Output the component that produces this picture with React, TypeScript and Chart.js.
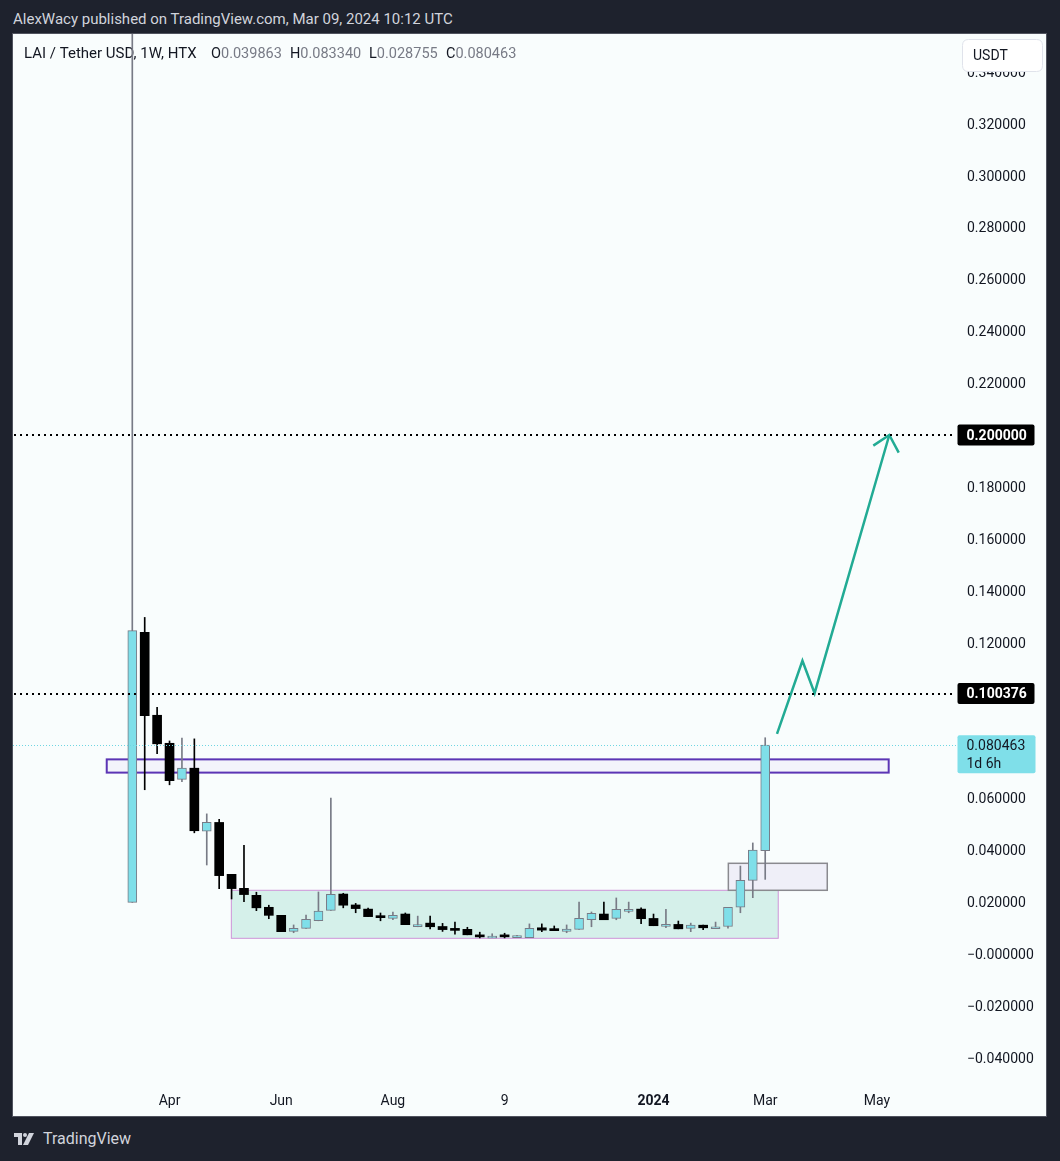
import React, { useEffect, useRef } from 'react';
import { Chart, registerables } from 'chart.js';

Chart.register(...registerables);

// ---------- data ----------
const WEEKS = [
  '2023-03-13', '2023-03-20', '2023-03-27', '2023-04-03', '2023-04-10', '2023-04-17', '2023-04-24',
  '2023-05-01', '2023-05-08', '2023-05-15', '2023-05-22', '2023-05-29', '2023-06-05', '2023-06-12',
  '2023-06-19', '2023-06-26', '2023-07-03', '2023-07-10', '2023-07-17', '2023-07-24', '2023-07-31',
  '2023-08-07', '2023-08-14', '2023-08-21', '2023-08-28', '2023-09-04', '2023-09-11', '2023-09-18',
  '2023-09-25', '2023-10-02', '2023-10-09', '2023-10-16', '2023-10-23', '2023-10-30', '2023-11-06',
  '2023-11-13', '2023-11-20', '2023-11-27', '2023-12-04', '2023-12-11', '2023-12-18', '2023-12-25',
  '2024-01-01', '2024-01-08', '2024-01-15', '2024-01-22', '2024-01-29', '2024-02-05', '2024-02-12',
  '2024-02-19', '2024-02-26', '2024-03-04',
];

const OPEN = [
  0.0199, 0.1240, 0.0920, 0.0812, 0.0673, 0.0716, 0.0473, 0.0507, 0.0307, 0.0253,
  0.0226, 0.0180, 0.0149, 0.0087, 0.0099, 0.0128, 0.0168, 0.0231, 0.0189, 0.0173,
  0.0145, 0.0137, 0.0154, 0.0113, 0.0119, 0.0106, 0.0096, 0.0095, 0.0072, 0.0069,
  0.0072, 0.0063, 0.0063, 0.0101, 0.0092, 0.0087, 0.0095, 0.0132, 0.0154, 0.0137,
  0.0172, 0.0173, 0.0137, 0.0114, 0.0114, 0.0099, 0.0111, 0.0105, 0.0106, 0.0180,
  0.0284, 0.039863,
];
const HIGH = [
  0.4200, 0.1297, 0.0951, 0.0821, 0.0832, 0.0829, 0.0540, 0.0519, 0.0307, 0.0419,
  0.0238, 0.0188, 0.0149, 0.0112, 0.0150, 0.0239, 0.0601, 0.0234, 0.0195, 0.0177,
  0.0158, 0.0162, 0.0158, 0.0146, 0.0146, 0.0118, 0.0123, 0.0103, 0.0084, 0.0078,
  0.0080, 0.0072, 0.0116, 0.0116, 0.0108, 0.0112, 0.0200, 0.0162, 0.0200, 0.0216,
  0.0200, 0.0178, 0.0154, 0.0172, 0.0127, 0.0119, 0.0111, 0.0123, 0.0180, 0.0339,
  0.0428, 0.083340,
];
const LOW = [
  0.0199, 0.0633, 0.0772, 0.0652, 0.0664, 0.0467, 0.0343, 0.0252, 0.0212, 0.0202,
  0.0167, 0.0136, 0.0086, 0.0082, 0.0099, 0.0128, 0.0168, 0.0178, 0.0159, 0.0144,
  0.0128, 0.0132, 0.0113, 0.0105, 0.0097, 0.0087, 0.0076, 0.0074, 0.0062, 0.0063,
  0.0062, 0.0063, 0.0063, 0.0086, 0.0090, 0.0082, 0.0095, 0.0105, 0.0132, 0.0132,
  0.0159, 0.0117, 0.0109, 0.0101, 0.0097, 0.0086, 0.0094, 0.0105, 0.0100, 0.0159,
  0.0217, 0.028755,
];
const CLOSE = [
  0.1246, 0.0918, 0.0810, 0.0668, 0.0716, 0.0475, 0.0507, 0.0302, 0.0252, 0.0229,
  0.0178, 0.0149, 0.0086, 0.0099, 0.0134, 0.0165, 0.0230, 0.0188, 0.0175, 0.0144,
  0.0140, 0.0149, 0.0113, 0.0113, 0.0105, 0.0094, 0.0091, 0.0074, 0.0066, 0.0069,
  0.0066, 0.0068, 0.0099, 0.0092, 0.0090, 0.0096, 0.0137, 0.0157, 0.0132, 0.0172,
  0.0172, 0.0136, 0.0109, 0.0114, 0.0097, 0.0111, 0.0101, 0.0105, 0.0180, 0.0284,
  0.0400, 0.080463,
];

// time axis ticks (week index) and labels
const TIME_TICKS = [3, 12, 21, 30, 42, 51, 60];
const TIME_LABELS = ['Apr', 'Jun', 'Aug', '9', '2024', 'Mar', 'May'];

// price axis ticks
const PRICE_TICKS = [
  -0.04, -0.02, 0, 0.02, 0.04, 0.06, 0.08, 0.1, 0.12, 0.14, 0.16, 0.18, 0.2, 0.22, 0.24,
  0.26, 0.28, 0.3, 0.32, 0.34,
];

// horizontal levels
const LEVELS = [0.2, 0.100376];
const LAST_PRICE = 0.080463;
const LAST_PRICE_TIMER = '1d 6h';

// rectangles (week index range, price range)
const ZONE_X0 = [-2.06, 7.98, 48.03];
const ZONE_X1 = [60.95, 52.05, 56.0];
const ZONE_Y0 = [0.0699, 0.00605, 0.02455];
const ZONE_Y1 = [0.0750, 0.02455, 0.03495];

// projected path (week index, price)
const PATH_X = [51.95, 54.0, 54.98, 61.0];
const PATH_Y = [0.0848, 0.1130, 0.1005, 0.2];
const HEAD_X = [59.71, 61.0, 61.76];
const HEAD_Y = [0.1959, 0.2, 0.1932];

// visible range
const X_MIN = -9.613;
const X_MAX = 66.374;
const Y_MIN = -0.051252;
const Y_MAX = 0.354528;

// ---------- style ----------
const FONT = 'Roboto, "Liberation Sans", sans-serif';
const UP = '#7fdfe9';
const UP_BORDER = '#787b86';
const DOWN = '#000000';
const TEAL = '#22ab94';
const TEXT = '#131722';
const PLOT_BG = '#f9fdfd';
const ZONE_FILL = ['#f3f4fb', '#d5f0ea', '#efeff8'];
const ZONE_STROKE = ['#5c35b5', '#ce93d8', '#8a8a8f'];
const ZONE_LW = [2, 1, 1.5];

const fmtPrice = (v: number) => {
  const s = Math.abs(v).toFixed(6);
  return v <= 1e-12 ? '\u2212' + s : s;
};

function roundRect(ctx: CanvasRenderingContext2D, x: number, y: number, w: number, h: number, r: number) {
  ctx.beginPath();
  ctx.moveTo(x + r, y);
  ctx.lineTo(x + w - r, y);
  ctx.quadraticCurveTo(x + w, y, x + w, y + r);
  ctx.lineTo(x + w, y + h - r);
  ctx.quadraticCurveTo(x + w, y + h, x + w - r, y + h);
  ctx.lineTo(x + r, y + h);
  ctx.quadraticCurveTo(x, y + h, x, y + h - r);
  ctx.lineTo(x, y + r);
  ctx.quadraticCurveTo(x, y, x + r, y);
  ctx.closePath();
}

const overlayPlugin = {
  id: 'overlay',
  beforeDatasetsDraw(chart: any) {
    const { ctx, scales } = chart;
    const x = scales.x;
    const y = scales.y;
    ctx.save();
    // legend line
    ctx.font = `15px ${FONT}`;
    ctx.textBaseline = 'middle';
    ctx.textAlign = 'left';
    const cy = 20;
    ctx.fillStyle = TEXT;
    ctx.fillText('LAI / Tether USD, 1W, HTX', 11, cy);
    const names = ['O', 'H', 'L', 'C'];
    const starts = [198, 277, 356, 433];
    const last = OPEN.length - 1;
    const vals = [OPEN[last], HIGH[last], LOW[last], CLOSE[last]];
    ctx.font = `14.5px ${FONT}`;
    names.forEach((n, i) => {
      ctx.fillStyle = TEXT;
      ctx.fillText(n, starts[i], cy);
      const w = ctx.measureText(n).width;
      ctx.fillStyle = '#787b86';
      ctx.fillText(vals[i].toFixed(6), starts[i] + w, cy);
    });
    // zones
    for (let i = 0; i < ZONE_X0.length; i++) {
      const px0 = x.getPixelForValue(ZONE_X0[i]);
      const px1 = x.getPixelForValue(ZONE_X1[i]);
      const py0 = y.getPixelForValue(ZONE_Y1[i]);
      const py1 = y.getPixelForValue(ZONE_Y0[i]);
      ctx.fillStyle = ZONE_FILL[i];
      ctx.fillRect(px0, py0, px1 - px0, py1 - py0);
      ctx.strokeStyle = ZONE_STROKE[i];
      ctx.lineWidth = ZONE_LW[i];
      ctx.strokeRect(px0, py0, px1 - px0, py1 - py0);
    }
    ctx.restore();
  },
  afterDatasetsDraw(chart: any) {
    const { ctx, chartArea, scales } = chart;
    const y = scales.y;
    ctx.save();
    // last price line
    const lp = Math.round(y.getPixelForValue(LAST_PRICE)) + 0.5;
    ctx.strokeStyle = '#6fd6e2';
    ctx.lineWidth = 1;
    ctx.setLineDash([1, 2]);
    ctx.beginPath();
    ctx.moveTo(chartArea.left, lp);
    ctx.lineTo(chartArea.right, lp);
    ctx.stroke();
    // dotted levels
    ctx.strokeStyle = '#000000';
    ctx.lineWidth = 2;
    ctx.setLineDash([2, 4]);
    for (const v of LEVELS) {
      const py = Math.round(y.getPixelForValue(v));
      ctx.beginPath();
      ctx.moveTo(chartArea.left + 1, py);
      ctx.lineTo(chartArea.right, py);
      ctx.stroke();
    }
    ctx.restore();
  },
  afterDraw(chart: any) {
    const { ctx, chartArea, scales } = chart;
    const y = scales.y;
    ctx.save();
    const bx = chartArea.right + 1.5;
    // level labels
    for (const v of LEVELS) {
      const py = y.getPixelForValue(v);
      ctx.fillStyle = '#000000';
      roundRect(ctx, bx, py - 10.5, 77, 21, 2);
      ctx.fill();
      ctx.fillStyle = '#ffffff';
      ctx.font = `bold 14px ${FONT}`;
      ctx.textBaseline = 'middle';
      ctx.textAlign = 'left';
      ctx.fillText(fmtPrice(v), bx + 9, py + 1);
    }
    // last price label
    const lp = y.getPixelForValue(LAST_PRICE);
    ctx.fillStyle = UP;
    roundRect(ctx, bx, lp - 10, 78, 38, 2);
    ctx.fill();
    ctx.fillStyle = TEXT;
    ctx.font = `14px ${FONT}`;
    ctx.textBaseline = 'middle';
    ctx.fillText(fmtPrice(LAST_PRICE), bx + 9, lp + 1.5);
    ctx.fillText(LAST_PRICE_TIMER, bx + 9, lp + 19.5);
    // currency button
    ctx.fillStyle = '#ffffff';
    roundRect(ctx, 949.5, 5.5, 80, 32, 6);
    ctx.fill();
    ctx.strokeStyle = '#e0e3eb';
    ctx.lineWidth = 1;
    ctx.stroke();
    ctx.fillStyle = TEXT;
    ctx.font = `14px ${FONT}`;
    ctx.fillText('USDT', 960, 22);
    ctx.restore();
  },
};

export default function App() {
  const canvasRef = useRef<HTMLCanvasElement | null>(null);

  useEffect(() => {
    const canvas = canvasRef.current;
    if (!canvas) return;

    const upBodies: any[] = [];
    const downBodies: any[] = [];
    const upWicks: any[] = [];
    const downWicks: any[] = [];
    WEEKS.forEach((_, i) => {
      const up = CLOSE[i] >= OPEN[i];
      (up ? upBodies : downBodies).push({ x: i, y: [OPEN[i], CLOSE[i]] });
      (up ? upWicks : downWicks).push({ x: i, y: [LOW[i], HIGH[i]] });
    });
    const path = PATH_X.map((v, i) => ({ x: v, y: PATH_Y[i] }));
    const head = HEAD_X.map((v, i) => ({ x: v, y: HEAD_Y[i] }));

    const chart = new Chart(canvas, {
      type: 'bar',
      data: {
        datasets: [
          {
            type: 'line',
            label: 'projection',
            data: path,
            borderColor: TEAL,
            borderWidth: 2.5,
            pointRadius: 0,
            fill: false,
            tension: 0,
          } as any,
          {
            type: 'line',
            label: 'arrowhead',
            data: head,
            borderColor: TEAL,
            borderWidth: 2.5,
            pointRadius: 0,
            fill: false,
            tension: 0,
          } as any,
          {
            label: 'up bodies',
            data: upBodies,
            backgroundColor: UP,
            borderColor: UP_BORDER,
            borderWidth: 1,
            borderSkipped: false,
            barThickness: 9,
            minBarLength: 2,
            grouped: false,
            clip: 0,
          } as any,
          {
            label: 'down bodies',
            data: downBodies,
            backgroundColor: DOWN,
            borderColor: DOWN,
            borderWidth: 0,
            barThickness: 9,
            minBarLength: 2,
            grouped: false,
            clip: 0,
          } as any,
          {
            label: 'up wicks',
            data: upWicks,
            backgroundColor: UP_BORDER,
            borderWidth: 0,
            barThickness: 1,
            grouped: false,
            clip: 0,
          } as any,
          {
            label: 'down wicks',
            data: downWicks,
            backgroundColor: DOWN,
            borderWidth: 0,
            barThickness: 1,
            grouped: false,
            clip: 0,
          } as any,
        ],
      },
      options: {
        animation: false,
        responsive: false,
        maintainAspectRatio: false,
        layout: { padding: 0 },
        plugins: {
          legend: { display: false },
          tooltip: { enabled: false },
        },
        scales: {
          x: {
            type: 'linear',
            position: 'bottom',
            min: X_MIN,
            max: X_MAX,
            offset: false,
            grid: { display: false, drawTicks: false },
            border: { display: false },
            afterBuildTicks: (s: any) => {
              s.ticks = TIME_TICKS.map((v) => ({ value: v }));
            },
            afterFit: (s: any) => {
              s.height = 29;
              s.paddingLeft = 0;
              s.paddingRight = 0;
              s.paddingTop = 0;
              s.paddingBottom = 0;
            },
            ticks: {
              autoSkip: false,
              maxRotation: 0,
              padding: 6,
              color: TEXT,
              font: (c: any) => ({
                family: FONT,
                size: 14,
                weight: c.tick && TIME_LABELS[TIME_TICKS.indexOf(c.tick.value)] === '2024' ? 'bold' : 'normal',
              }),
              callback: (v: any) => {
                const k = TIME_TICKS.indexOf(Number(v));
                return k >= 0 ? TIME_LABELS[k] : '';
              },
            },
          } as any,
          y: {
            type: 'linear',
            position: 'right',
            min: Y_MIN,
            max: Y_MAX,
            grid: { display: false, drawTicks: false },
            border: { display: false },
            afterBuildTicks: (s: any) => {
              s.ticks = PRICE_TICKS.map((v) => ({ value: v }));
            },
            afterFit: (s: any) => {
              s.width = 90;
              s.paddingTop = 0;
              s.paddingBottom = 0;
              s.paddingLeft = 0;
              s.paddingRight = 0;
            },
            ticks: {
              autoSkip: false,
              padding: 11,
              labelOffset: 1.5,
              color: TEXT,
              font: { family: FONT, size: 14 },
              callback: (v: any) => fmtPrice(Number(v)),
            },
          } as any,
        },
      } as any,
      plugins: [overlayPlugin as any],
    });

    return () => chart.destroy();
  }, []);

  return (
    <div
      style={{
        position: 'absolute',
        left: 0,
        top: 0,
        width: 1060,
        height: 1161,
        background: '#1e222d',
        fontFamily: FONT,
        overflow: 'hidden',
      }}
    >
      <div
        style={{
          position: 'absolute',
          left: 13,
          top: 10,
          color: '#d1d4dc',
          fontSize: 15,
          lineHeight: '18px',
          whiteSpace: 'nowrap',
        }}
      >
        AlexWacy published on TradingView.com, Mar 09, 2024 10:12 UTC
      </div>
      <div
        style={{
          position: 'absolute',
          left: 13,
          top: 34,
          width: 1033,
          height: 1082,
          background: PLOT_BG,
          boxShadow: '0 0 0 1px #50535e',
        }}
      >
        <canvas
          ref={canvasRef}
          width={1033}
          height={1082}
          style={{ display: 'block', width: 1033, height: 1082 }}
        />
      </div>
      <div
        style={{
          position: 'absolute',
          left: 14,
          top: 1129,
          height: 20,
          display: 'flex',
          alignItems: 'center',
          color: '#d1d4dc',
        }}
      >
        <svg width="25" height="12" viewBox="0 0 25 12" style={{ marginRight: 4 }}>
          <path d="M0 0 H8 V12 H4 V4 H0 Z" fill="#d1d4dc" />
          <circle cx="11" cy="2" r="2" fill="#d1d4dc" />
          <path d="M15 0 H20 L14 12 H9 Z" fill="#d1d4dc" />
        </svg>
        <span style={{ fontSize: 16, lineHeight: '20px' }}>TradingView</span>
      </div>
    </div>
  );
}
